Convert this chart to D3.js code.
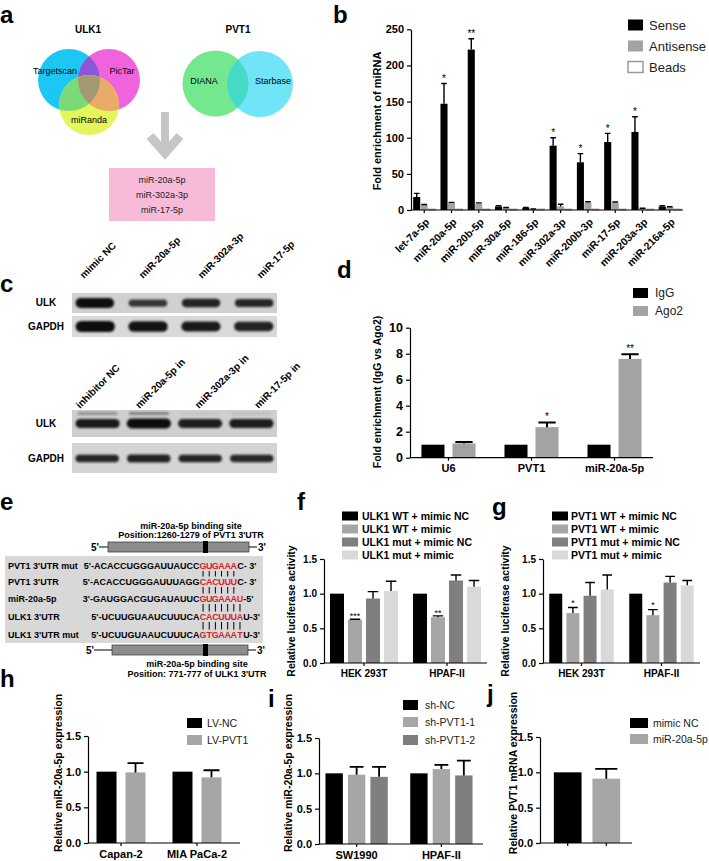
<!DOCTYPE html>
<html><head><meta charset="utf-8">
<script src="https://cdn.jsdelivr.net/npm/d3@7"></script>
<style>
body{margin:0;background:#fff}
svg{display:block;font-family:"Liberation Sans",Arial,Helvetica,sans-serif}
</style></head><body>
<svg id="fig" width="709" height="861"></svg>
<script>
// ================= DATA =================
// panel a
const aULK1Sets = ["Targetscan","PicTar","miRanda"];
const aPVT1Sets = ["DIANA","Starbase"];
const aCandidates = ["miR-20a-5p","miR-302a-3p","miR-17-5p"];
// panel b
const bCategories = ["let-7a-5p","miR-20a-5p","miR-20b-5p","miR-30a-5p","miR-186-5p","miR-302a-3p","miR-200b-3p","miR-17-5p","miR-203a-3p","miR-216a-5p"];
const bSeries = ["Sense","Antisense","Beads"];
const bSense = [18,147,222,5,3,89,66,94,108,5];
const bSenseErr = [23,175,237,6,3.5,100,78,106,129,6];
const bAntisense = [7,10,9,3,1,5,10,10,2,4];
const bAntisenseErr = [7.6,10.6,9.8,3.5,1.3,8,11.5,11,2.4,4.6];
const bBeads = [1.2,1.2,1.2,1.2,1.2,1.2,1.2,1.2,1.2,1.2];
const bStars = ["","*","**","","","*","*","*","*",""];
const bTicks = [0,50,100,150,200,250];
// panel c (band intensities, relative)
const cTopLanes = ["mimic NC","miR-20a-5p","miR-302a-3p","miR-17-5p"];
const cBottomLanes = ["inhibitor NC","miR-20a-5p in","miR-302a-3p in","miR-17-5p in"];
const cTopULK = [1.0,0.5,0.72,0.68];
const cTopGAPDH = [1.0,0.92,0.85,0.75];
const cBottomULK = [0.85,1.0,0.78,0.8];
const cBottomULKUpper = [0.35,0.45,0.05,0.08];
const cBottomGAPDH = [0.7,0.75,0.72,0.68];
// panel d
const dCategories = ["U6","PVT1","miR-20a-5p"];
const dSeries = ["IgG","Ago2"];
const dIgG = [1,1,1];
const dAgo2 = [1.1,2.35,7.6];
const dAgo2Err = [1.2,2.7,7.95];
const dStars = ["","*","**"];
const dTicks = [0,2,4,6,8,10];
// panel e
const eRowLabels = ["PVT1 3'UTR mut","PVT1 3'UTR","miR-20a-5p","ULK1 3'UTR","ULK1 3'UTR mut"];
const ePrefix = ["5'-ACACCUGGGAUUAUCC","5'-ACACCUGGGAUUUAGG","3'-GAUGGACGUGAUAUUC","5'-UCUUGUAAUCUUUCA","5'-UCUUGUAAUCUUUCA"];
const eSeed = ["GUGAAA","CACUUU","GUGAAAU","CACUUUA","GTGAAAT"];
const eSuffix = ["C- 3'","C- 3'","-5'","U-3'","U-3'"];
const ePairs = [6,6,7,7];
// panel f
const fCategories = ["HEK 293T","HPAF-II"];
const fSeries = ["ULK1 WT + mimic NC","ULK1 WT + mimic","ULK1 mut + mimic NC","ULK1 mut + mimic"];
const fWtNC = [1.0,1.0];
const fWtMimic = [0.62,0.66];
const fWtMimicErr = [0.63,0.68];
const fMutNC = [0.93,1.19];
const fMutNCErr = [1.03,1.27];
const fMutMimic = [1.04,1.10];
const fMutMimicErr = [1.18,1.19];
const fStars = ["***","**"];
// panel g
const gSeries = ["PVT1 WT + mimic NC","PVT1 WT + mimic","PVT1 mut + mimic NC","PVT1 mut + mimic"];
const gWtNC = [1.0,1.0];
const gWtMimic = [0.72,0.69];
const gWtMimicErr = [0.80,0.77];
const gMutNC = [0.97,1.16];
const gMutNCErr = [1.16,1.25];
const gMutMimic = [1.06,1.12];
const gMutMimicErr = [1.27,1.19];
const gStars = ["*","*"];
const lucTicks = [0,0.5,1.0,1.5];
// panel h
const hCategories = ["Capan-2","MIA PaCa-2"];
const hSeries = ["LV-NC","LV-PVT1"];
const hNC = [1.0,1.0];
const hPVT1 = [0.99,0.92];
const hPVT1Err = [1.12,1.02];
// panel i
const iCategories = ["SW1990","HPAF-II"];
const iSeries = ["sh-NC","sh-PVT1-1","sh-PVT1-2"];
const iNC = [1.0,1.0];
const iSh1 = [0.98,1.06];
const iSh1Err = [1.09,1.12];
const iSh2 = [0.95,0.97];
const iSh2Err = [1.09,1.18];
// panel j
const jCategories = ["mimic NC","miR-20a-5p"];
const jValues = [1.0,0.91];
const jErr = [null,1.05];
const exprTicks = [0,0.5,1.0,1.5];

// ================= DRAWING =================
const FONT = '"Liberation Sans", Arial, Helvetica, sans-serif';
const svg = d3.select("#fig");
const defs = svg.append("defs");
defs.append("filter").attr("id","blur").attr("x","-20%").attr("y","-50%").attr("width","140%").attr("height","200%")
  .append("feGaussianBlur").attr("stdDeviation",1.3);

function txt(p,x,y,s,o={}){
  const t=p.append("text").attr("x",x).attr("y",y).text(s)
    .attr("font-size",o.size||10).attr("font-weight",o.weight||"normal")
    .attr("text-anchor",o.anchor||"start").attr("fill",o.fill||"#000");
  if(o.transform) t.attr("transform",o.transform);
  return t;
}
function panelLabel(t,x,y){ txt(svg,x,y,t,{size:24,weight:"bold"}); }
function yTitle(s,cx,cy,size){
  svg.append("text").attr("transform",`translate(${cx+size*0.36},${cy}) rotate(-90)`)
    .attr("text-anchor","middle").attr("font-size",size).attr("font-weight","bold").text(s);
}
function legend(items,o){
  const g=svg.append("g");
  items.forEach((it,k)=>{
    const cy=o.ys[k];
    g.append("rect").attr("x",o.x).attr("y",cy-o.h/2).attr("width",o.w).attr("height",o.h)
      .attr("fill",o.colors[k]).attr("stroke",o.strokes?o.strokes[k]:"none").attr("stroke-width",1.5);
    txt(g,o.tx,cy+o.size*0.36,it,{size:o.size,weight:o.weight||"normal",fill:o.fill||"#000"});
  });
}

function barChart(o){
  const g=svg.append("g");
  const y=d3.scaleLinear().domain(o.yDomain).range(o.yRange);
  const x=d3.scaleBand().domain(o.cats).range(o.xRange).paddingInner(o.pIn).paddingOuter(o.pOut);
  const n=o.values.length;
  const sub=d3.scaleBand().domain(d3.range(n)).range([0,x.bandwidth()]).paddingInner(o.subPad);
  const bw=sub.bandwidth();
  const cxOf=(si,i)=>x(o.cats[i])+sub(si)+bw/2;
  o.values.forEach((vals,si)=>{
    const sg=g.append("g");
    vals.forEach((v,i)=>{
      if(v==null) return;
      const fill=o.catColors?o.catColors[i]:o.colors[si];
      sg.append("rect").attr("x",x(o.cats[i])+sub(si)).attr("y",y(v))
        .attr("width",bw).attr("height",Math.max(0.01,y(0)-y(v)))
        .attr("fill",fill).attr("stroke",o.strokes?o.strokes[si]:"none").attr("stroke-width",1);
      const errs=o.errs&&o.errs[si];
      if(errs&&errs[i]!=null&&errs[i]>v){
        const cx=cxOf(si,i), cap=bw*o.capRatio/2;
        sg.append("path").attr("d",`M${cx},${y(v)}V${y(errs[i])}M${cx-cap},${y(errs[i])}H${cx+cap}`)
          .attr("stroke","#000").attr("stroke-width",o.errW||1.4).attr("fill","none");
      }
    });
  });
  if(o.stars){
    o.stars.forEach((s,i)=>{
      if(!s) return;
      const top=y(o.errs[o.starSeries][i]);
      txt(g,cxOf(o.starSeries,i),top-o.starGap+o.starSize*0.57,s,{size:o.starSize,anchor:"middle"});
    });
  }
  const yg=g.append("g").attr("transform",`translate(${o.axisX},0)`)
    .call(d3.axisLeft(y).tickValues(o.ticks).tickFormat(o.fmt).tickSize(4).tickPadding(3).tickSizeOuter(0));
  yg.attr("font-family",FONT).attr("font-size",o.tickSize).attr("font-weight","bold");
  const xg=g.append("g").attr("transform",`translate(0,${y(0)})`)
    .call(d3.axisBottom(x).tickSize(3).tickPadding(4).tickSizeOuter(0).tickFormat(o.xLabels===false?"":null));
  xg.select(".domain").attr("d",`M${o.axisX},0H${o.axisEnd}`);
  xg.attr("font-family",FONT).attr("font-size",o.xSize||o.tickSize).attr("font-weight","bold");
  [yg,xg].forEach(a=>{a.selectAll("path,line").attr("stroke","#000").attr("stroke-width",1.2);a.selectAll("text").attr("fill","#000");});
  if(o.rotateX){
    xg.selectAll(".tick text").attr("y",0).attr("dy",null).attr("x",0)
      .attr("transform","translate(3,10) rotate(-45)").attr("text-anchor","end")
      .attr("dominant-baseline","central").attr("font-size",o.rotateX);
  }
  return {g,x,y,xg,yg};
}

// ---------- panel a ----------
panelLabel("a",0,23);
txt(svg,88,33,"ULK1",{size:10,weight:"bold",anchor:"middle"});
txt(svg,238,33,"PVT1",{size:10,weight:"bold",anchor:"middle"});
const vC={cx:69,cy:80,r:31}, vM={cx:109,cy:80,r:31}, vY={cx:89,cy:105,r:30};
[["cC",vC],["cM",vM],["cY",vY]].forEach(([id,c])=>defs.append("clipPath").attr("id",id)
  .append("circle").attr("cx",c.cx).attr("cy",c.cy).attr("r",c.r));
function circ(p,c,fill,clip){const e=p.append("circle").attr("cx",c.cx).attr("cy",c.cy).attr("r",c.r).attr("fill",fill); if(clip) e.attr("clip-path",`url(#${clip})`); return e;}
circ(svg,vC,"#1cc8f3");
circ(svg,vM,"#f163dc");
circ(svg,vM,"#8d55da","cC");
circ(svg,vY,"#e4f65c");
circ(svg,vY,"#7bda78","cC");
circ(svg,vY,"#e9ab68","cM");
circ(svg.append("g").attr("clip-path","url(#cC)"),vY,"#a39a74","cM");
txt(svg,55,74,aULK1Sets[0],{size:9,anchor:"middle"});
txt(svg,122,74,aULK1Sets[1],{size:9,anchor:"middle"});
txt(svg,89,123,aULK1Sets[2],{size:9,anchor:"middle"});
const vD={cx:215.5,cy:83.5,r:33}, vS={cx:260,cy:84,r:33};
defs.append("clipPath").attr("id","cD").append("circle").attr("cx",vD.cx).attr("cy",vD.cy).attr("r",vD.r);
circ(svg,vD,"#73e88f");
circ(svg,vS,"#70e5f8");
circ(svg,vS,"#45dbc6","cD");
txt(svg,204,83.5,aPVT1Sets[0],{size:9,anchor:"middle"});
txt(svg,273,83.5,aPVT1Sets[1],{size:9,anchor:"middle"});
// arrow
svg.append("rect").attr("x",161).attr("y",112).attr("width",8).attr("height",44).attr("fill","#c6c6c6");
svg.append("path").attr("d","M150,136L165,153L180,136").attr("fill","none").attr("stroke","#c6c6c6").attr("stroke-width",9);
// candidate box
svg.append("rect").attr("x",109).attr("y",168).attr("width",106).attr("height",53).attr("fill","#f7bad9");
aCandidates.forEach((s,k)=>txt(svg,162,183+k*15,s,{size:9,anchor:"middle",fill:"#222"}));

// ---------- panel b ----------
panelLabel("b",333,23);
barChart({cats:bCategories,values:[bSense,bAntisense,bBeads],errs:[bSenseErr,bAntisenseErr,null],
  colors:["#000","#a3a3a3","#fff"],strokes:["none","none","#9a9a9a"],
  yDomain:[0,250],yRange:[210,29.3],xRange:[411,683],pIn:0.19,pOut:0.08,subPad:0.06,
  axisX:411,axisEnd:683,ticks:bTicks,fmt:d3.format("d"),tickSize:11,capRatio:0.8,errW:1.4,
  stars:bStars,starSeries:0,starGap:7,starSize:10,rotateX:10.5});
yTitle("Fold enrichment of miRNA",377,121,11);
legend(bSeries,{x:628,w:15,h:11,ys:[25,46,67],colors:["#000","#a3a3a3","#fff"],strokes:["none","none","#9a9a9a"],tx:649,size:13,fill:"#222"});

// ---------- panel c ----------
panelLabel("c",0,292);
function blot(boxY,boxH,vals,bandY,bandH,opts={}){
  const lanes=d3.scaleBand().domain(d3.range(vals.length)).range([72,277]).paddingInner(opts.pad||0.14).paddingOuter(0.03);
  svg.append("rect").attr("x",72).attr("y",boxY).attr("width",205).attr("height",boxH).attr("fill",opts.bg||"#d2d2d2");
  const g=svg.append("g").attr("filter","url(#blur)");
  vals.forEach((v,i)=>{
    const h=bandH*(0.45+0.55*v);
    g.append("rect").attr("x",lanes(i)+2).attr("y",bandY-h/2).attr("width",lanes.bandwidth()-4).attr("height",h)
      .attr("rx",h/2).attr("fill","#111").attr("opacity",0.6+0.4*v);
  });
}
blot(293,20,cTopULK,303,10,{pad:0.2,bg:"#d0d0d0"});
blot(316,21,cTopGAPDH,326.5,11,{pad:0.18,bg:"#d9d9d9"});
blot(410,27,cBottomULK,423.5,10,{pad:0.06,bg:"#cfcfcf"});
(function(){
  const lanes=d3.scaleBand().domain(d3.range(4)).range([72,277]).paddingInner(0.06).paddingOuter(0.03);
  const g=svg.append("g").attr("filter","url(#blur)");
  cBottomULKUpper.forEach((v,i)=>g.append("rect").attr("x",lanes(i)+4).attr("y",412).attr("width",lanes.bandwidth()-8).attr("height",3)
    .attr("rx",1.5).attr("fill","#222").attr("opacity",v));
})();
blot(443,30,cBottomGAPDH,458.5,9,{pad:0.08,bg:"#d4d4d4"});
[["ULK",306],["GAPDH",330],["ULK",427],["GAPDH",462]].forEach(([s,y])=>txt(svg,46,y,s,{size:10,weight:"bold",anchor:"middle"}));
cTopLanes.forEach((s,i)=>txt(svg,0,0,s,{size:10,weight:"bold",transform:`translate(${84+i*59},279) rotate(-45)`}));
cBottomLanes.forEach((s,i)=>txt(svg,0,0,s,{size:10,weight:"bold",transform:`translate(${80+i*59.5},409) rotate(-45)`}));

// ---------- panel d ----------
panelLabel("d",337,278);
barChart({cats:dCategories,values:[dIgG,dAgo2],errs:[null,dAgo2Err],colors:["#000","#a3a3a3"],
  yDomain:[0,10],yRange:[457.7,327.7],xRange:[410,653],pIn:0.349,pOut:0.138,subPad:0.258,
  axisX:410,axisEnd:653,ticks:dTicks,fmt:d3.format("d"),tickSize:12.5,xSize:11,capRatio:0.75,errW:2,
  stars:dStars,starSeries:1,starGap:8,starSize:10});
yTitle("Fold enrichment (IgG vs Ago2)",377,392,10.5);
legend(dSeries,{x:633,w:15,h:10,ys:[293,311],colors:["#000","#a3a3a3"],tx:655,size:12,fill:"#222"});

// ---------- panel e ----------
panelLabel("e",0,510);
function geneBar(yc,x0,x1,fiveX,threeX){
  const g=svg.append("g");
  txt(g,fiveX,yc+4,"5'",{size:10,weight:"bold"});
  g.append("line").attr("x1",fiveX+8).attr("x2",x0).attr("y1",yc).attr("y2",yc).attr("stroke","#000").attr("stroke-width",1);
  g.append("rect").attr("x",x0).attr("y",yc-5).attr("width",x1-x0).attr("height",10).attr("fill","#8c8c8c").attr("stroke","#333").attr("stroke-width",0.7);
  g.append("rect").attr("x",203).attr("y",yc-6).attr("width",5).attr("height",12).attr("fill","#000");
  g.append("line").attr("x1",x1).attr("x2",threeX-1).attr("y1",yc).attr("y2",yc).attr("stroke","#000").attr("stroke-width",1);
  txt(g,threeX,yc+4,"3'",{size:10,weight:"bold"});
}
txt(svg,191,528.5,"miR-20a-5p binding site",{size:9,weight:"bold",anchor:"middle"});
txt(svg,191,538,"Position:1260-1279 of PVT1 3'UTR",{size:9,weight:"bold",anchor:"middle"});
geneBar(547,108,249,91,258);
svg.append("rect").attr("x",5).attr("y",556).attr("width",258).attr("height",87).attr("fill","#d8d8d8");
const eRowY=[569,585,602,620,638];
const pitch=6.15, seedX=200;
eRowLabels.forEach((s,k)=>{
  const yb=eRowY[k];
  txt(svg,8,yb,s,{size:9,weight:"bold"});
  txt(svg,seedX-0.5,yb,ePrefix[k],{size:9,weight:"bold",anchor:"end"});
  eSeed[k].split("").forEach((ch,c)=>txt(svg,seedX+pitch*(c+0.5),yb,ch,{size:9,weight:"bold",anchor:"middle",fill:"#e0202a"}));
  txt(svg,seedX+pitch*eSeed[k].length+0.3,yb,eSuffix[k],{size:9,weight:"bold"});
});
ePairs.forEach((n,k)=>{
  for(let c=0;c<n;c++){
    const xx=seedX+pitch*(c+0.5);
    svg.append("line").attr("x1",xx).attr("x2",xx).attr("y1",eRowY[k]+2).attr("y2",eRowY[k+1]-8.5).attr("stroke","#000").attr("stroke-width",1);
  }
});
geneBar(650,112,248,86,257);
txt(svg,197,666.5,"miR-20a-5p binding site",{size:9,weight:"bold",anchor:"middle"});
txt(svg,197,676.5,"Position: 771-777 of ULK1 3'UTR",{size:9,weight:"bold",anchor:"middle"});

// ---------- panel f ----------
const lucColors=["#000","#a6a6a6","#7f7f7f","#d9d9d9"];
panelLabel("f",297,510);
legend(fSeries,{x:342,w:16,h:9,ys:[516,529,542,555],colors:lucColors,tx:362,size:10.5,weight:"bold"});
barChart({cats:fCategories,values:[fWtNC,fWtMimic,fMutNC,fMutMimic],errs:[null,fWtMimicErr,fMutNCErr,fMutMimicErr],
  colors:lucColors,yDomain:[0,1.5],yRange:[663,559],xRange:[324,487],pIn:0.18,pOut:0.072,subPad:0.222,
  axisX:324,axisEnd:487,ticks:lucTicks,fmt:d3.format(".1f"),tickSize:10,capRatio:0.75,errW:1.4,
  stars:fStars,starSeries:1,starGap:5,starSize:9});
yTitle("Relative luciferase activity",291,611,10.5);

// ---------- panel g ----------
panelLabel("g",492,515);
legend(gSeries,{x:552,w:16,h:9,ys:[516,529,542,555],colors:lucColors,tx:571,size:10.5,weight:"bold"});
barChart({cats:fCategories,values:[gWtNC,gWtMimic,gMutNC,gMutMimic],errs:[null,gWtMimicErr,gMutNCErr,gMutMimicErr],
  colors:lucColors,yDomain:[0,1.5],yRange:[663,559],xRange:[543,700],pIn:0.194,pOut:0.078,subPad:0.243,
  axisX:543,axisEnd:700,ticks:lucTicks,fmt:d3.format(".1f"),tickSize:10,capRatio:0.75,errW:1.4,
  stars:gStars,starSeries:1,starGap:7,starSize:9});
yTitle("Relative luciferase activity",505,611,10.5);

// ---------- panel h ----------
panelLabel("h",0,687);
legend(hSeries,{x:187,w:15,h:10,ys:[723,740],colors:["#000","#a6a6a6"],tx:207,size:10.5,fill:"#222"});
barChart({cats:hCategories,values:[hNC,hPVT1],errs:[null,hPVT1Err],colors:["#000","#a6a6a6"],
  yDomain:[0,1.5],yRange:[843,736],xRange:[88,230],pIn:0.355,pOut:0.112,subPad:0.31,
  axisX:88,axisEnd:240,ticks:exprTicks,fmt:d3.format(".1f"),tickSize:11,capRatio:0.8,errW:1.8});
yTitle("Relative miR-20a-5p expression",58,773,10.5);

// ---------- panel i ----------
panelLabel("i",268,707);
legend(iSeries,{x:403,w:15,h:10,ys:[705,722,740],colors:["#000","#a6a6a6","#7f7f7f"],tx:425,size:10.5,fill:"#222"});
barChart({cats:iCategories,values:[iNC,iSh1,iSh2],errs:[null,iSh1Err,iSh2Err],colors:["#000","#a6a6a6","#7f7f7f"],
  yDomain:[0,1.5],yRange:[844,738],xRange:[317,481],pIn:0.265,pOut:0.1,subPad:0.227,
  axisX:319,axisEnd:483,ticks:exprTicks,fmt:d3.format(".1f"),tickSize:11,capRatio:0.8,errW:1.8});
yTitle("Relative miR-20a-5p expression",288,773,10.5);

// ---------- panel j ----------
panelLabel("j",487,702);
legend(jCategories,{x:630,w:18,h:10,ys:[723,739],colors:["#000","#a6a6a6"],tx:653,size:10.5,fill:"#222"});
barChart({cats:jCategories,values:[jValues],errs:[jErr],colors:["#000"],catColors:["#000","#a6a6a6"],
  yDomain:[0,1.5],yRange:[843,737],xRange:[540,634],pIn:0.282,pOut:0.359,subPad:0,
  axisX:540,axisEnd:632,ticks:exprTicks,fmt:d3.format(".1f"),tickSize:11,capRatio:0.8,errW:1.8,xLabels:false});
yTitle("Relative PVT1 mRNA expression",513,773,10.5);
</script>
</body></html>
